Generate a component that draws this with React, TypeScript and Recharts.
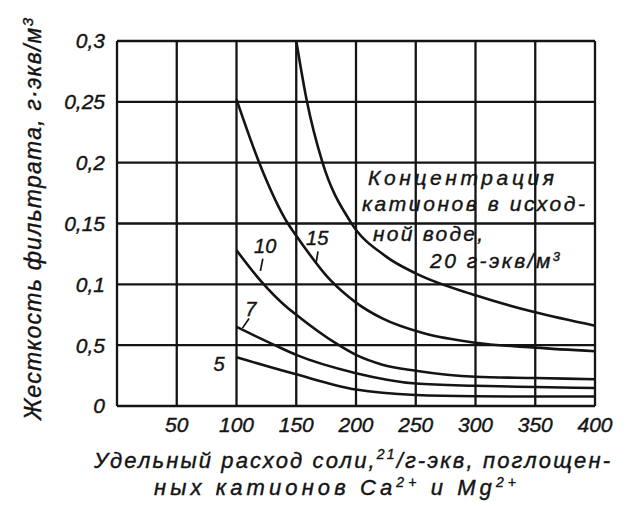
import React from 'react';
import { LineChart, Line, XAxis, YAxis, CartesianGrid, ReferenceDot, ReferenceLine } from 'recharts';

// Axis ticks and labels
const xTicks = [0, 50, 100, 150, 200, 250, 300, 350, 400];
const xTickLabels = ['', '50', '100', '150', '200', '250', '300', '350', '400'];
const yTicks = [0, 0.05, 0.1, 0.15, 0.2, 0.25, 0.3];
const yTickLabels = ['0', '0,5', '0,1', '0,15', '0,2', '0,25', '0,3'];

// Concentration 20 g-eq/m3
const c20X = [150, 159, 172, 195, 225, 250, 300, 350, 400];
const c20Y = [0.3, 0.25, 0.2, 0.152, 0.123, 0.109, 0.091, 0.077, 0.066];
// Concentration 15
const c15X = [100, 119, 143, 150, 178, 200, 222, 256, 300, 350, 400];
const c15Y = [0.252, 0.2, 0.15, 0.14, 0.104, 0.085, 0.072, 0.06, 0.052, 0.048, 0.045];
// Concentration 10
const c10X = [100, 121, 140, 150, 184, 200, 222, 250, 300, 350, 400];
const c10Y = [0.128, 0.102, 0.083, 0.075, 0.051, 0.042, 0.034, 0.029, 0.024, 0.023, 0.022];
// Concentration 7
const c7X = [100, 132, 150, 200, 250, 300, 350, 400];
const c7Y = [0.065, 0.05, 0.042, 0.027, 0.0185, 0.0166, 0.0156, 0.0148];
// Concentration 5
const c5X = [100, 150, 200, 250, 300, 350, 400];
const c5Y = [0.04, 0.026, 0.0135, 0.009, 0.008, 0.0078, 0.0078];

const curveLabels = ['20', '15', '10', '7', '5'];

const mk = (xs: number[], ys: number[]) => xs.map((x, i) => ({ x, y: ys[i] }));
const series = [mk(c20X, c20Y), mk(c15X, c15Y), mk(c10X, c10Y), mk(c7X, c7Y), mk(c5X, c5Y)];

const INK = '#141414';
const FONT = "'Liberation Sans', 'DejaVu Sans', sans-serif";

const labelStyle = {
  fontSize: 20,
  fontStyle: 'italic',
  fill: INK,
  stroke: INK,
  strokeWidth: 0.4,
  fontFamily: FONT,
};

const tickStyle = { fill: INK, stroke: INK, strokeWidth: 0.4, fontSize: 21, fontStyle: 'italic', fontFamily: FONT };

export default function App() {
  return (
    <div style={{ position: 'fixed', left: 0, top: 0, width: 636, height: 508, background: '#fff' }}>
      <LineChart width={636} height={508} margin={{ top: 41, right: 41, bottom: 72, left: 57 }}>
        <CartesianGrid stroke={INK} strokeWidth={2.3} horizontal vertical />
        <XAxis
          type="number"
          dataKey="x"
          domain={[0, 400]}
          ticks={xTicks}
          tickFormatter={(v: number) => xTickLabels[xTicks.indexOf(v)]}
          height={30}
          tickSize={0}
          tickMargin={11}
          axisLine={false}
          tickLine={false}
          tick={tickStyle}
        />
        <YAxis
          type="number"
          domain={[0, 0.3]}
          ticks={yTicks}
          tickFormatter={(v: number) => yTickLabels[yTicks.indexOf(v)]}
          width={60}
          tickSize={0}
          tickMargin={12}
          axisLine={false}
          tickLine={false}
          tick={tickStyle}
        />
        {series.map((d, i) => (
          <Line
            key={curveLabels[i]}
            data={d}
            dataKey="y"
            type="monotone"
            stroke={INK}
            strokeWidth={2.6}
            dot={false}
            activeDot={false}
            isAnimationActive={false}
          />
        ))}
        <ReferenceDot x={124} y={0.132} r={0} fill="none" stroke="none" ifOverflow="visible"
          label={{ value: curveLabels[2], position: 'center', ...labelStyle }} />
        <ReferenceLine segment={[{ x: 122, y: 0.121 }, { x: 120, y: 0.111 }]} stroke={INK} strokeWidth={1.7} ifOverflow="visible" />
        <ReferenceDot x={167.5} y={0.138} r={0} fill="none" stroke="none" ifOverflow="visible"
          label={{ value: curveLabels[1], position: 'center', ...labelStyle }} />
        <ReferenceLine segment={[{ x: 168.2, y: 0.127 }, { x: 166.5, y: 0.117 }]} stroke={INK} strokeWidth={1.7} ifOverflow="visible" />
        <ReferenceDot x={112} y={0.08} r={0} fill="none" stroke="none" ifOverflow="visible"
          label={{ value: curveLabels[3], position: 'center', ...labelStyle }} />
        <ReferenceLine segment={[{ x: 110.5, y: 0.072 }, { x: 105, y: 0.064 }]} stroke={INK} strokeWidth={1.7} ifOverflow="visible" />
        <ReferenceDot x={85.5} y={0.035} r={0} fill="none" stroke="none" ifOverflow="visible"
          label={{ value: curveLabels[4], position: 'center', ...labelStyle }} />
      </LineChart>
      <svg width={636} height={508} style={{ position: 'absolute', left: 0, top: 0, pointerEvents: 'none' }}
        fontFamily={FONT} fontStyle="italic" fill={INK} stroke={INK} strokeWidth={0.4}>
        {/* Y axis title */}
        <text transform="translate(41,420) rotate(-90)" fontSize={23} textLength={402} lengthAdjust="spacing">
          Жесткость фильтрата, г·экв/м<tspan dy={-8} fontSize={15}>3</tspan>
        </text>
        {/* X axis title */}
        <text x={94} y={468} fontSize={22} textLength={516} lengthAdjust="spacing">
          Удельный расход соли,<tspan dy={-9} fontSize={14}>21</tspan><tspan dy={9}>/г-экв, поглощен-</tspan>
        </text>
        <text x={154} y={495} fontSize={22} textLength={362} lengthAdjust="spacing">
          ных катионов Ca<tspan dy={-8} fontSize={14}>2+</tspan><tspan dy={8}> и Mg</tspan><tspan dy={-8} fontSize={14}>2+</tspan>
        </text>
        {/* Legend note */}
        <text x={368} y={185} fontSize={21} textLength={186} lengthAdjust="spacing">Концентрация</text>
        <text x={362} y={211} fontSize={21} textLength={223} lengthAdjust="spacing">катионов в исход-</text>
        <text x={373} y={241} fontSize={21} textLength={110} lengthAdjust="spacing">ной воде,</text>
        <text x={430} y={268} fontSize={21} textLength={130} lengthAdjust="spacing">
          20 г-экв/м<tspan dy={-7} fontSize={13}>3</tspan>
        </text>
      </svg>
    </div>
  );
}
